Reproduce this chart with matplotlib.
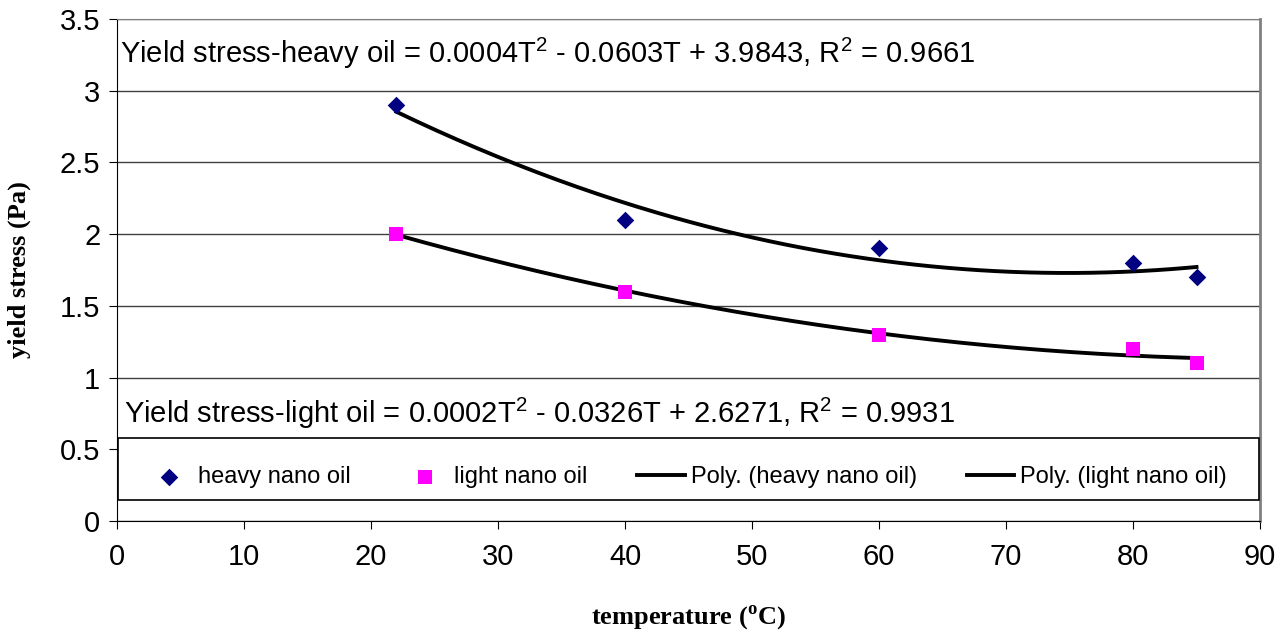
import numpy as np
import matplotlib
matplotlib.use("Agg")
import matplotlib.pyplot as plt
from matplotlib.patches import Rectangle

temps = [22, 40, 60, 80, 85]
heavy = [2.9, 2.1, 1.9, 1.8, 1.7]
light = [2.0, 1.6, 1.3, 1.2, 1.1]
heavy_label = "heavy nano oil"
light_label = "light nano oil"
heavy_eq = "Yield stress-heavy oil = 0.0004T$^\\mathregular{2}$ - 0.0603T + 3.9843, R$^\\mathregular{2}$ = 0.9661"
light_eq = "Yield stress-light oil = 0.0002T$^\\mathregular{2}$ - 0.0326T + 2.6271, R$^\\mathregular{2}$ = 0.9931"

plt.rcParams['font.family'] = ['Liberation Sans', 'DejaVu Sans']

fig = plt.figure(figsize=(12.87, 6.33), dpi=100)
ax = fig.add_axes([117/1287, 1-521/633, (1260-117)/1287, (521-19)/633])

# trendlines
tt = np.linspace(min(temps), max(temps), 200)
ph = np.polyfit(temps, heavy, 2)
pl = np.polyfit(temps, light, 2)
ax.scatter(temps, heavy, marker='D', s=80, color='#000080', zorder=3, label=heavy_label, linewidths=0)
ax.scatter(temps, light, marker='s', s=90, color='#FF00FF', zorder=3, label=light_label, linewidths=0)
ax.plot(tt, np.polyval(ph, tt), color='black', lw=2.8, zorder=2, label='Poly. (heavy nano oil)')
ax.plot(tt, np.polyval(pl, tt), color='black', lw=2.8, zorder=2, label='Poly. (light nano oil)')

ax.set_xlim(0, 90)
ax.set_ylim(0, 3.5)
ax.set_xticks(np.arange(0, 91, 10))
ax.set_yticks(np.arange(0, 3.51, 0.5))
ax.set_yticklabels(['0', '0.5', '1', '1.5', '2', '2.5', '3', '3.5'])
ax.yaxis.grid(True, color='#404040', lw=1)
ax.set_axisbelow(True)
ax.tick_params(axis='both', direction='out', length=6, labelsize=21, color='black')
ax.tick_params(axis='x', pad=10)
ax.tick_params(axis='y', pad=6)
ax.spines['left'].set_color('black')
ax.spines['bottom'].set_color('black')
ax.spines['top'].set_color('#808080')
ax.spines['right'].set_color('#808080')
ax.spines['right'].set_linewidth(2)

ax.text(0.003, 0.932, heavy_eq, transform=ax.transAxes, fontsize=21, va='center', ha='left')
ax.text(0.006, 0.215, light_eq, transform=ax.transAxes, fontsize=21, va='center', ha='left')

# legend frame
ax.add_patch(Rectangle((0.001, 0.042), 0.998, 0.123, transform=ax.transAxes,
                       facecolor='white', edgecolor='black', lw=1.2, zorder=4, clip_on=False))
leg = ax.legend(loc='center left', bbox_to_anchor=(0.0245, 0.0876),
                ncol=4, fontsize=17, frameon=False,
                handlelength=2.0, handletextpad=0.25, borderaxespad=0, scatterpoints=1,
                borderpad=0, columnspacing=2.12)
leg.set_zorder(5)

ax.set_ylabel('yield stress (Pa)', fontfamily='Liberation Serif', fontweight='bold', fontsize=19, labelpad=21)
ax.set_xlabel('temperature ($^\\mathregular{o}$C)', fontfamily='Liberation Serif', fontweight='bold', fontsize=19, labelpad=23)

fig.savefig('out.png', dpi=100)
